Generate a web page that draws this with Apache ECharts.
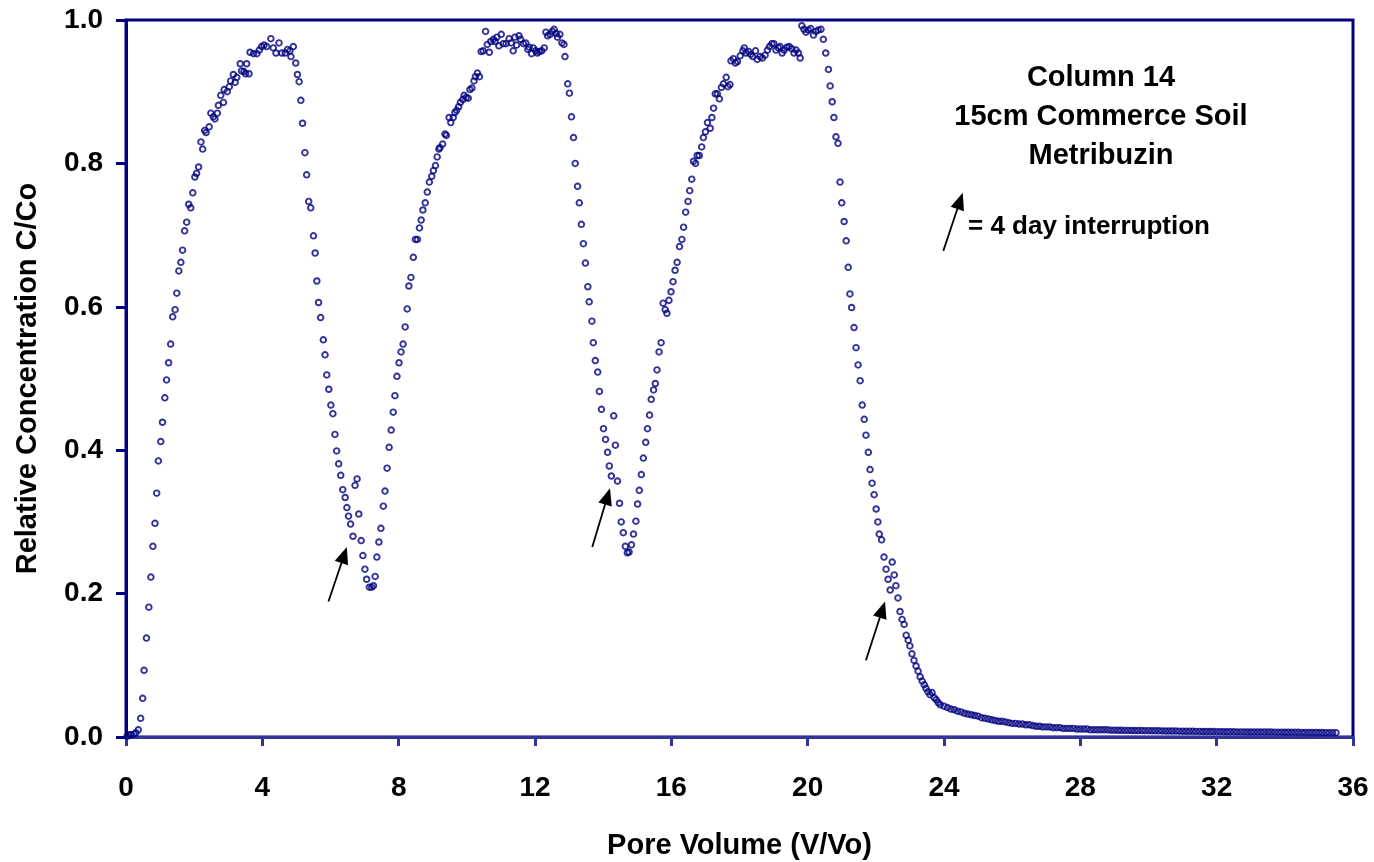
<!DOCTYPE html>
<html>
<head>
<meta charset="utf-8">
<title>Column 14 - Metribuzin</title>
<script src="https://cdn.jsdelivr.net/npm/echarts@6/dist/echarts.min.js"></script>
<style>
    html, body { margin: 0; padding: 0; background: #fff; }
    #chart { width: 1374px; height: 862px; }
</style>
</head>
<body>
<div id="chart"></div>
<script>
// pore volume (V/Vo), relative concentration C/Co
const firstPeak = [
    [0.03,0.001],[0.09,0.003],[0.15,0.003],[0.23,0.004],[0.29,0.006],[0.36,0.010],[0.43,0.026],[0.49,0.054],
    [0.53,0.093],[0.60,0.138],[0.67,0.181],[0.73,0.223],[0.79,0.266],[0.85,0.298],[0.90,0.340],[0.95,0.385],
    [1.02,0.412],[1.07,0.439],[1.14,0.473],[1.19,0.498],[1.25,0.522],[1.31,0.548],[1.37,0.586],[1.44,0.596],
    [1.49,0.619],[1.55,0.650],[1.61,0.662],[1.66,0.679],[1.72,0.706],[1.78,0.718],[1.84,0.743],[1.90,0.738],
    [1.96,0.759],[2.02,0.781],[2.07,0.786],[2.13,0.795],[2.20,0.830],[2.25,0.820],[2.31,0.846],[2.35,0.843],
    [2.44,0.851],[2.49,0.870],[2.56,0.865],[2.61,0.862],[2.68,0.870],[2.71,0.881],[2.78,0.895],[2.86,0.885],
    [2.88,0.903],[2.97,0.900],[3.03,0.907],[3.07,0.915],[3.15,0.924],[3.20,0.913],[3.25,0.920],[3.35,0.939],
    [3.39,0.929],[3.46,0.928],[3.51,0.925],[3.54,0.939],[3.61,0.925],[3.64,0.955],[3.74,0.953],[3.84,0.953],
    [3.91,0.958],[3.98,0.963],[4.05,0.965],[4.13,0.963],[4.25,0.974],[4.32,0.961],[4.40,0.954],[4.49,0.968],
    [4.57,0.954],[4.67,0.954],[4.74,0.959],[4.81,0.957],[4.84,0.949],[4.91,0.963],[4.98,0.940],[5.03,0.924],
    [5.08,0.914],[5.13,0.888],[5.18,0.856],[5.25,0.815],[5.30,0.784],[5.36,0.747],[5.42,0.738],[5.50,0.699],
    [5.55,0.675],[5.60,0.636],[5.65,0.606],[5.71,0.585],[5.79,0.554],[5.84,0.533],[5.89,0.505],[5.95,0.485],
    [6.01,0.463],[6.07,0.451],[6.13,0.422],[6.18,0.399],[6.24,0.381],[6.30,0.365],[6.36,0.345],[6.43,0.334],
    [6.48,0.320],[6.53,0.308],[6.59,0.297],[6.66,0.280]
];
const secondPeak = [
    [6.72,0.351],[6.78,0.360],[6.83,0.311],[6.90,0.274],[6.95,0.253],[7.01,0.234],[7.06,0.220],[7.14,0.209],
    [7.21,0.209],[7.26,0.211],[7.31,0.224],[7.36,0.251],[7.42,0.272],[7.48,0.291],[7.55,0.322],[7.60,0.343],
    [7.66,0.375],[7.72,0.404],[7.78,0.428],[7.84,0.453],[7.89,0.476],[7.95,0.503],[8.01,0.522],[8.07,0.537],
    [8.13,0.548],[8.19,0.572],[8.25,0.597],[8.30,0.629],[8.36,0.641],[8.43,0.669],[8.49,0.694],[8.55,0.694],
    [8.61,0.710],[8.66,0.721],[8.71,0.735],[8.78,0.745],[8.84,0.760],[8.90,0.774],[8.97,0.782],[9.02,0.790],
    [9.08,0.797],[9.13,0.809],[9.18,0.820],[9.21,0.822],[9.29,0.827],[9.36,0.841],[9.40,0.839],[9.48,0.864],
    [9.53,0.857],[9.60,0.864],[9.65,0.871],[9.70,0.874],[9.76,0.879],[9.81,0.885],[9.88,0.889],[9.92,0.895],
    [9.98,0.892],[10.04,0.891],[10.09,0.903],[10.15,0.905],[10.21,0.915],[10.25,0.921],[10.31,0.926],[10.37,0.921],
    [10.42,0.956],[10.48,0.957],[10.55,0.984],[10.60,0.966],[10.66,0.955],[10.70,0.970],[10.78,0.973],[10.83,0.970],
    [10.88,0.976],[10.94,0.964],[11.01,0.980],[11.07,0.967],[11.15,0.967],[11.24,0.974],[11.30,0.968],[11.36,0.957],
    [11.41,0.976],[11.46,0.965],[11.53,0.978],[11.58,0.973],[11.66,0.967],[11.73,0.968],[11.79,0.959],[11.83,0.962],
    [11.90,0.953],[11.95,0.961],[12.02,0.957],[12.07,0.954],[12.13,0.956],[12.20,0.957],[12.27,0.961],[12.32,0.983],
    [12.37,0.978],[12.44,0.980],[12.51,0.984],[12.56,0.987],[12.62,0.981],[12.66,0.976],[12.73,0.980],[12.79,0.968],
    [12.85,0.966],[12.88,0.949],[12.96,0.911],[13.01,0.898],[13.07,0.865],[13.13,0.836],[13.18,0.800],[13.25,0.768],
    [13.30,0.745],[13.36,0.715],[13.42,0.688],[13.48,0.661],[13.55,0.628],[13.59,0.607],[13.67,0.580],[13.71,0.550],
    [13.77,0.525],[13.84,0.509],[13.89,0.482],[13.95,0.457],[14.01,0.430],[14.07,0.415],[14.13,0.397],[14.18,0.378],
    [14.24,0.364]
];
const thirdPeak = [
    [14.31,0.448],[14.36,0.407],[14.42,0.357],[14.48,0.326],[14.53,0.300],[14.59,0.285],[14.65,0.266],[14.71,0.257],
    [14.76,0.258],[14.83,0.268],[14.89,0.283],[14.96,0.301],[15.01,0.325],[15.06,0.344],[15.12,0.366],[15.18,0.389],
    [15.25,0.411],[15.30,0.430],[15.36,0.449],[15.41,0.471],[15.48,0.484],[15.53,0.493],[15.58,0.512],[15.64,0.537],
    [15.70,0.550],[15.76,0.605],[15.82,0.596],[15.87,0.591],[15.93,0.609],[15.99,0.621],[16.05,0.635],[16.11,0.651],
    [16.17,0.662],[16.24,0.684],[16.31,0.694],[16.36,0.711],[16.42,0.732],[16.49,0.747],[16.54,0.762],[16.60,0.778],
    [16.65,0.803],[16.71,0.800],[16.76,0.811],[16.82,0.811],[16.89,0.823],[16.94,0.836],[17.00,0.844],[17.06,0.857],
    [17.14,0.849],[17.19,0.864],[17.24,0.877],[17.29,0.897],[17.35,0.897],[17.41,0.890],[17.47,0.906],[17.53,0.911],
    [17.61,0.920],[17.66,0.907],[17.72,0.910],[17.75,0.943],[17.82,0.946],[17.88,0.940],[17.94,0.942],[18.02,0.950],
    [18.10,0.957],[18.14,0.961],[18.19,0.954],[18.27,0.956],[18.33,0.952],[18.39,0.949],[18.47,0.957],[18.52,0.945],
    [18.60,0.949],[18.67,0.947],[18.75,0.951],[18.82,0.958],[18.88,0.963],[18.95,0.967],[19.01,0.967],[19.07,0.958],
    [19.14,0.961],[19.19,0.963],[19.25,0.954],[19.31,0.958],[19.39,0.962],[19.46,0.963],[19.53,0.960],[19.60,0.954],
    [19.66,0.958],[19.73,0.954],[19.78,0.947],[19.83,0.992],[19.89,0.987],[19.95,0.983],[20.02,0.986],[20.09,0.988],
    [20.17,0.979],[20.24,0.984],[20.31,0.986],[20.39,0.987],[20.46,0.973],[20.53,0.954],[20.61,0.931],[20.66,0.908],
    [20.72,0.886],[20.77,0.864],[20.83,0.837],[20.89,0.828],[20.95,0.774],[21.00,0.745],[21.07,0.719],[21.13,0.692],
    [21.19,0.655],[21.24,0.618],[21.29,0.599],[21.36,0.571],[21.42,0.543],[21.48,0.519],[21.54,0.497],[21.60,0.463],
    [21.66,0.443],[21.71,0.421],[21.78,0.397],[21.83,0.373],[21.89,0.354],[21.95,0.338],[22.01,0.318],[22.06,0.300],
    [22.10,0.283],[22.17,0.275],[22.24,0.251],[22.30,0.234],[22.36,0.220],[22.42,0.205]
];
const tail = [
    [22.48,0.244],[22.54,0.226],[22.59,0.211],[22.65,0.194],[22.71,0.175],[22.77,0.164],[22.83,0.157],[22.89,0.142],
    [22.95,0.135],[23.00,0.127],[23.06,0.116],[23.12,0.107],[23.18,0.099],[23.24,0.092],[23.30,0.084],[23.36,0.078],
    [23.42,0.073],[23.47,0.068],[23.53,0.063],[23.59,0.059],[23.65,0.062],[23.71,0.055],[23.77,0.052],[23.83,0.048],
    [23.89,0.045],[24.0,0.043],[24.1,0.041],[24.2,0.039],[24.3,0.038],[24.4,0.036],[24.5,0.035],[24.6,0.033],
    [24.7,0.032],[24.8,0.031],[24.9,0.030],[25.0,0.029],[25.1,0.027],[25.2,0.026],[25.3,0.025],[25.4,0.024],
    [25.5,0.023],[25.6,0.022],[25.7,0.022],[25.8,0.021],[25.9,0.020],[26.0,0.019],[26.1,0.019],[26.2,0.018],
    [26.3,0.018],[26.4,0.017],[26.5,0.017],[26.6,0.016],[26.7,0.015],[26.8,0.015],[26.9,0.014],[27.0,0.014],
    [27.1,0.014],[27.2,0.013],[27.3,0.013],[27.4,0.013],[27.5,0.012],[27.6,0.012],[27.7,0.012],[27.8,0.012],
    [27.9,0.011],[28.0,0.011],[28.1,0.011],[28.2,0.011],[28.3,0.010],[28.4,0.010],[28.5,0.010],[28.6,0.010],
    [28.7,0.010],[28.8,0.010],[28.9,0.0095],[29.0,0.0095],[29.1,0.0094],[29.2,0.0093],[29.3,0.0092],[29.4,0.0092],
    [29.5,0.0091],[29.6,0.0090],[29.7,0.0090],[29.8,0.0089],[29.9,0.0088],[30.0,0.0088],[30.1,0.0087],[30.2,0.0086],
    [30.3,0.0086],[30.4,0.0085],[30.5,0.0084],[30.6,0.0084],[30.7,0.0083],[30.8,0.0082],[30.9,0.0081],[31.0,0.0080],
    [31.1,0.0080],[31.2,0.0079],[31.3,0.0079],[31.4,0.0078],[31.5,0.0078],[31.6,0.0077],[31.7,0.0077],[31.8,0.0076],
    [31.9,0.0075],[32.0,0.0074],[32.1,0.0074],[32.2,0.0073],[32.3,0.0073],[32.4,0.0072],[32.5,0.0072],[32.6,0.0071],
    [32.7,0.0071],[32.8,0.0071],[32.9,0.0070],[33.0,0.0070],[33.1,0.0070],[33.2,0.0069],[33.3,0.0069],[33.4,0.0068],
    [33.5,0.0068],[33.6,0.0068],[33.7,0.0067],[33.8,0.0067],[33.9,0.0067],[34.0,0.0066],[34.1,0.0066],[34.2,0.0065],
    [34.3,0.0065],[34.4,0.0065],[34.5,0.0064],[34.6,0.0064],[34.7,0.0064],[34.8,0.0063],[34.9,0.0063],[35.0,0.0062],
    [35.1,0.0062],[35.2,0.0061],[35.3,0.0061],[35.4,0.0060],[35.5,0.0060]
];

// interruption arrows: [tail, tip] in data units
const arrows = [
    [[5.94, 0.189], [6.48, 0.265]],
    [[13.68, 0.265], [14.20, 0.347]],
    [[21.71, 0.107], [22.27, 0.189]],
    [[23.98, 0.678], [24.55, 0.759]]
];
const noteLines = ['Column 14', '15cm Commerce Soil', 'Metribuzin'];
const keyText = '= 4 day interruption';

const font = "'Liberation Sans', Arial, sans-serif";
const navy = '#000080';

const chart = echarts.init(document.getElementById('chart'));
chart.setOption({
    animation: false,
    grid: {
        left: 126,
        right: 21,
        top: 20,
        bottom: 125,
        outerBoundsMode: 'none',
        containLabel: false,
        show: true,
        borderColor: navy,
        borderWidth: 3
    },
    xAxis: {
        type: 'value',
        min: 0,
        max: 36,
        interval: 4,
        name: 'Pore Volume (V/Vo)',
        nameLocation: 'middle',
        nameGap: 94,
        nameTextStyle: { fontFamily: font, fontSize: 29, fontWeight: 'bold', color: '#000' },
        axisLine: { lineStyle: { color: '#333399', width: 3 } },
        axisTick: { length: 9, lineStyle: { color: '#333399', width: 3 } },
        axisLabel: { margin: 37, fontFamily: font, fontSize: 28, fontWeight: 'bold', color: '#000' },
        splitLine: { show: false }
    },
    yAxis: {
        type: 'value',
        min: 0,
        max: 1,
        interval: 0.2,
        name: 'Relative Concentration C/Co',
        nameLocation: 'middle',
        nameGap: 84,
        nameTextStyle: { fontFamily: font, fontSize: 29, fontWeight: 'bold', color: '#000' },
        axisLine: { lineStyle: { color: navy, width: 3 } },
        axisTick: { length: 10, lineStyle: { color: navy, width: 3 } },
        axisLabel: {
            margin: 23, fontFamily: font, fontSize: 28, fontWeight: 'bold', color: '#000',
            formatter: v => v.toFixed(1)
        },
        splitLine: { show: false }
    },
    series: [{
        type: 'scatter',
        symbol: 'circle',
        symbolSize: 5.6,
        itemStyle: { color: 'rgba(0,0,0,0)', borderColor: navy, borderWidth: 1.9 },
        data: firstPeak.concat(secondPeak, thirdPeak, tail)
    }]
});

// arrows and notes
const graphics = [];
arrows.forEach(a => {
    const p0 = chart.convertToPixel({ gridIndex: 0 }, a[0]);
    const p1 = chart.convertToPixel({ gridIndex: 0 }, a[1]);
    const dx = p1[0] - p0[0], dy = p1[1] - p0[1];
    const len = Math.sqrt(dx * dx + dy * dy);
    const ux = dx / len, uy = dy / len;
    const headLen = 17, headW = 7;
    const bx = p1[0] - ux * headLen, by = p1[1] - uy * headLen;
    graphics.push({
        type: 'line',
        shape: { x1: p0[0], y1: p0[1], x2: bx + ux * 2, y2: by + uy * 2 },
        style: { stroke: '#000', lineWidth: 1.8 }
    });
    graphics.push({
        type: 'polygon',
        shape: { points: [p1, [bx - uy * headW, by + ux * headW], [bx + uy * headW, by - ux * headW]] },
        style: { fill: '#000' }
    });
});
noteLines.forEach((t, i) => {
    graphics.push({
        type: 'text',
        x: 1101,
        y: 78 + i * 39,
        style: {
            text: t, fontFamily: font, fontSize: 29, fontWeight: 'bold', fill: '#000',
            align: 'center', verticalAlign: 'middle'
        }
    });
});
graphics.push({
    type: 'text',
    x: 968,
    y: 227,
    style: {
        text: keyText, fontFamily: font, fontSize: 26, fontWeight: 'bold', fill: '#000',
        align: 'left', verticalAlign: 'middle'
    }
});
chart.setOption({ graphic: graphics });
</script>
</body>
</html>
